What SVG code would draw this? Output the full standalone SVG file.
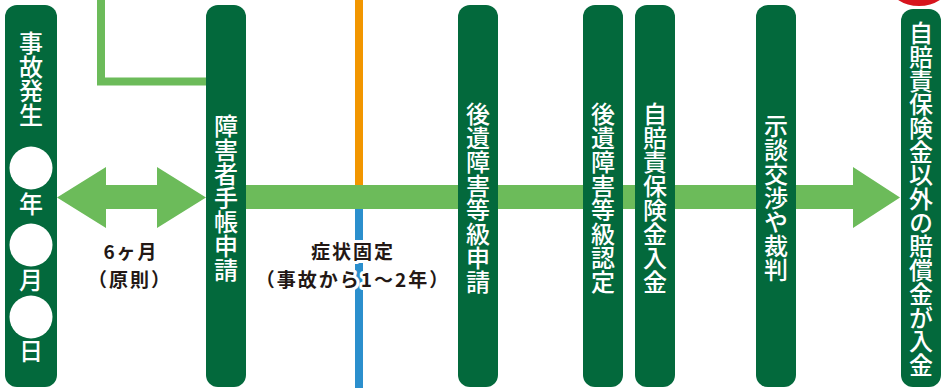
<svg xmlns="http://www.w3.org/2000/svg" width="946" height="388" viewBox="0 0 946 388">
  <style>
    .bar { fill: #03693c; }
    .vt { fill: #ffffff; font-family: "Noto Sans CJK JP", "Noto Sans", sans-serif; font-size: 24px; font-weight: 500; writing-mode: vertical-rl; }
    .lbl { fill: #231815; font-family: "Noto Sans CJK JP", "Noto Sans", sans-serif; font-size: 19px; font-weight: bold; letter-spacing: 2px; text-anchor: middle; stroke: #ffffff; stroke-width: 6px; stroke-linejoin: round; paint-order: stroke; }
    .lg { fill: #6cbb5a; }
  </style>
  <rect width="946" height="388" fill="#ffffff"/>
  <g id="connectors">
    <polyline points="101,0 101,81.5 210,81.5" fill="none" stroke="#6cbb5a" stroke-width="8"/>
    <line x1="359" y1="0" x2="359" y2="188" stroke="#f29600" stroke-width="8"/>
    <line x1="359" y1="206" x2="359" y2="388" stroke="#2b8fcd" stroke-width="8"/>
    <polygon class="lg" points="240,185 853,185 853,167 900,197.5 853,228 853,209 240,209"/>
    <polygon class="lg" points="57,197.5 106,167 106,185 157,185 157,167 206,197.5 157,228 157,209 106,209 106,228"/>
  </g>
  <g id="label-6months">
    <text class="lbl" x="131" y="259">6ヶ月</text>
    <text class="lbl" x="130" y="286.5">（原則）</text>
  </g>
  <g id="label-fixed">
    <text class="lbl" x="353" y="259">症状固定</text>
    <text class="lbl" x="353" y="286.5">（事故から1～2年）</text>
  </g>
  <g id="node-accident">
    <rect class="bar" x="5" y="5" width="52" height="382" rx="12"/>
    <text class="vt" x="31" y="31">事故発生</text>
    <circle cx="31" cy="168" r="21.5" fill="#ffffff"/>
    <text class="vt" x="31" y="192">年</text>
    <circle cx="31" cy="245" r="21.5" fill="#ffffff"/>
    <text class="vt" x="31" y="268">月</text>
    <circle cx="31" cy="317" r="21.5" fill="#ffffff"/>
    <text class="vt" x="31" y="339">日</text>
  </g>
  <g id="node-techo">
    <rect class="bar" x="206" y="5" width="40" height="382" rx="12"/>
    <text class="vt" x="226" y="114">障害者手帳申請</text>
  </g>
  <g id="node-shinsei">
    <rect class="bar" x="458" y="5" width="40" height="382" rx="12"/>
    <text class="vt" x="478" y="102">後遺障害等級申請</text>
  </g>
  <g id="node-nintei">
    <rect class="bar" x="583" y="5" width="40" height="382" rx="12"/>
    <text class="vt" x="603" y="102">後遺障害等級認定</text>
  </g>
  <g id="node-jibaiseki">
    <rect class="bar" x="635" y="5" width="40" height="382" rx="12"/>
    <text class="vt" x="655" y="102">自賠責保険金入金</text>
  </g>
  <g id="node-jidan">
    <rect class="bar" x="756" y="5" width="40" height="382" rx="12"/>
    <text class="vt" x="776" y="114">示談交渉や裁判</text>
  </g>
  <g id="node-final">
    <circle cx="919" cy="-33" r="40" fill="#d7141d" stroke="#ffffff" stroke-width="2"/>
    <rect class="bar" x="901" y="9" width="40" height="378" rx="12"/>
    <text class="vt" x="921" y="21" style="letter-spacing:-0.3px">自賠責保険金以外の賠償金が入金</text>
  </g>
</svg>
